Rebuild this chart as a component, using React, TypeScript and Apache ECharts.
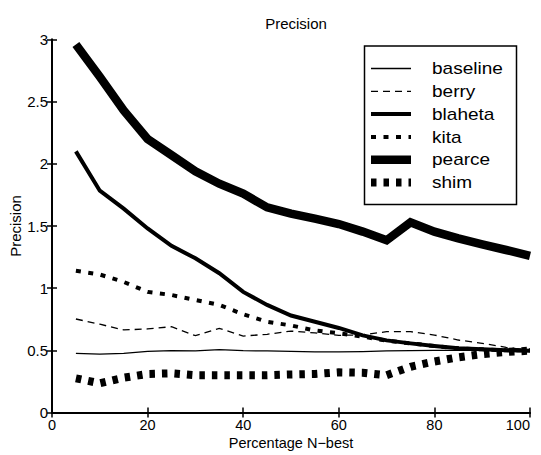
import React, { useEffect, useRef } from "react";
import * as echarts from "echarts";

// Percentage of the N-best list considered (x axis)
const percentages = [5, 10, 15, 20, 25, 30, 35, 40, 45, 50, 55, 60, 65, 70, 75, 80, 85, 90, 95, 100];

// Precision per system
const baseline = [0.476, 0.47, 0.476, 0.492, 0.497, 0.495, 0.505, 0.497, 0.495, 0.492, 0.487, 0.488, 0.49, 0.495, 0.498, 0.5, 0.5, 0.5, 0.5, 0.5];
const berry = [0.752, 0.71, 0.664, 0.672, 0.69, 0.618, 0.677, 0.615, 0.629, 0.655, 0.64, 0.62, 0.625, 0.65, 0.65, 0.623, 0.583, 0.556, 0.524, 0.5];
const blaheta = [2.1, 1.784, 1.64, 1.48, 1.34, 1.24, 1.12, 0.97, 0.865, 0.78, 0.73, 0.68, 0.62, 0.58, 0.556, 0.535, 0.516, 0.508, 0.5, 0.497];
const kita = [1.14, 1.11, 1.05, 0.97, 0.945, 0.905, 0.865, 0.79, 0.73, 0.7, 0.66, 0.637, 0.61, 0.578, 0.556, 0.535, 0.516, 0.508, 0.5, 0.5];
const pearce = [2.96, 2.7, 2.43, 2.2, 2.07, 1.94, 1.84, 1.76, 1.65, 1.6, 1.56, 1.516, 1.455, 1.385, 1.53, 1.455, 1.4, 1.353, 1.307, 1.26];
const shim = [0.275, 0.235, 0.28, 0.31, 0.315, 0.3, 0.3, 0.3, 0.3, 0.306, 0.31, 0.323, 0.32, 0.3, 0.368, 0.41, 0.444, 0.47, 0.487, 0.497];

const seriesNames = ["baseline", "berry", "blaheta", "kita", "pearce", "shim"];
const seriesValues = [baseline, berry, blaheta, kita, pearce, shim];

// Line appearance per system: width and dash pattern
const lineLooks: { width: number; dash: number[] | "solid" }[] = [
  { width: 1.3, dash: "solid" },
  { width: 1.3, dash: [7, 5] },
  { width: 4, dash: "solid" },
  { width: 4, dash: [5, 7.5] },
  { width: 8.5, dash: "solid" },
  { width: 8, dash: [5.5, 7] },
];

const FONT = "'Liberation Sans', Arial, Helvetica, sans-serif";

export default function App() {
  const ref = useRef<HTMLDivElement>(null);

  useEffect(() => {
    if (!ref.current) return;
    const chart = echarts.init(ref.current, undefined, { renderer: "svg" });

    const axisCommon = {
      type: "value" as const,
      axisLine: { show: true, lineStyle: { color: "#000", width: 2 } },
      axisTick: { show: true, inside: true, length: 5, lineStyle: { color: "#000", width: 1.5 } },
      splitLine: { show: false },
    };

    // Legend drawn as a boxed key in the upper right
    const legendX = 364.5;
    const legendY = 46;
    const rowStart = 68.5;
    const rowStep = 22.8;
    const legendChildren: any[] = [
      {
        type: "rect",
        shape: { x: legendX, y: legendY, width: 152, height: 158.5 },
        style: { fill: "#fff", stroke: "#000", lineWidth: 1.5 },
      },
    ];
    seriesNames.forEach((name, i) => {
      const y = rowStart + i * rowStep;
      const look = lineLooks[i];
      legendChildren.push({
        type: "line",
        shape: { x1: 371, y1: y, x2: 411, y2: y },
        style: {
          stroke: "#000",
          lineWidth: look.width,
          lineDash: look.dash === "solid" ? null : look.dash,
          lineCap: "butt",
        },
      });
      legendChildren.push({
        type: "text",
        x: 432,
        y: y,
        scaleX: 1.12,
        style: {
          text: name,
          fill: "#000",
          font: `17px ${FONT}`,
          textVerticalAlign: "middle",
        },
      });
    });

    chart.setOption({
      animation: false,
      backgroundColor: "#fff",
      textStyle: { fontFamily: FONT },
      title: {
        text: "Precision",
        left: 291,
        top: 11,
        textAlign: "center",
        textStyle: { fontSize: 15, fontWeight: "normal", color: "#000", fontFamily: FONT },
      },
      grid: {
        left: 52,
        right: 11,
        top: 39.5,
        bottom: 42.5,
        containLabel: false,
        outerBoundsMode: "none",
      },
      xAxis: [
        {
          ...axisCommon,
          position: "bottom",
          min: 0,
          max: 100,
          interval: 20,
          name: "Percentage N\u2212best",
          nameLocation: "middle",
          nameGap: 24,
          nameMoveOverlap: false,
          nameTextStyle: { fontSize: 14.5, lineHeight: 13, color: "#000", fontFamily: FONT },
          axisLabel: {
            color: "#000",
            fontSize: 14.5,
            lineHeight: 14,
            margin: 5,
            fontFamily: FONT,
            showMaxLabel: true,
            alignMaxLabel: "right",
          },
        },
        {
          ...axisCommon,
          position: "top",
          min: 0,
          max: 100,
          interval: 20,
          axisLabel: { show: false },
        },
      ],
      yAxis: [
        {
          ...axisCommon,
          position: "left",
          min: 0,
          max: 3,
          interval: 0.5,
          name: "Precision",
          nameLocation: "middle",
          nameGap: 29,
          nameMoveOverlap: false,
          nameTextStyle: { fontSize: 15, color: "#000", fontFamily: FONT },
          axisLabel: { color: "#000", fontSize: 15, margin: 4, fontFamily: FONT },
        },
        {
          ...axisCommon,
          position: "right",
          min: 0,
          max: 3,
          interval: 0.5,
          axisLabel: { show: false },
        },
      ],
      series: seriesNames.map((name, i) => ({
        name,
        type: "line",
        xAxisIndex: 0,
        yAxisIndex: 0,
        symbol: "none",
        data: percentages.map((p, j) => [p, seriesValues[i][j]]),
        lineStyle: {
          color: "#000",
          width: lineLooks[i].width,
          type: lineLooks[i].dash,
          cap: "butt",
          join: "miter",
        },
        z: 2 + i,
      })),
      graphic: [{ type: "group", z: 100, children: legendChildren }],
    });

    return () => chart.dispose();
  }, []);

  return (
    <div
      ref={ref}
      style={{ position: "fixed", left: 0, top: 0, width: 541, height: 455 }}
    />
  );
}
